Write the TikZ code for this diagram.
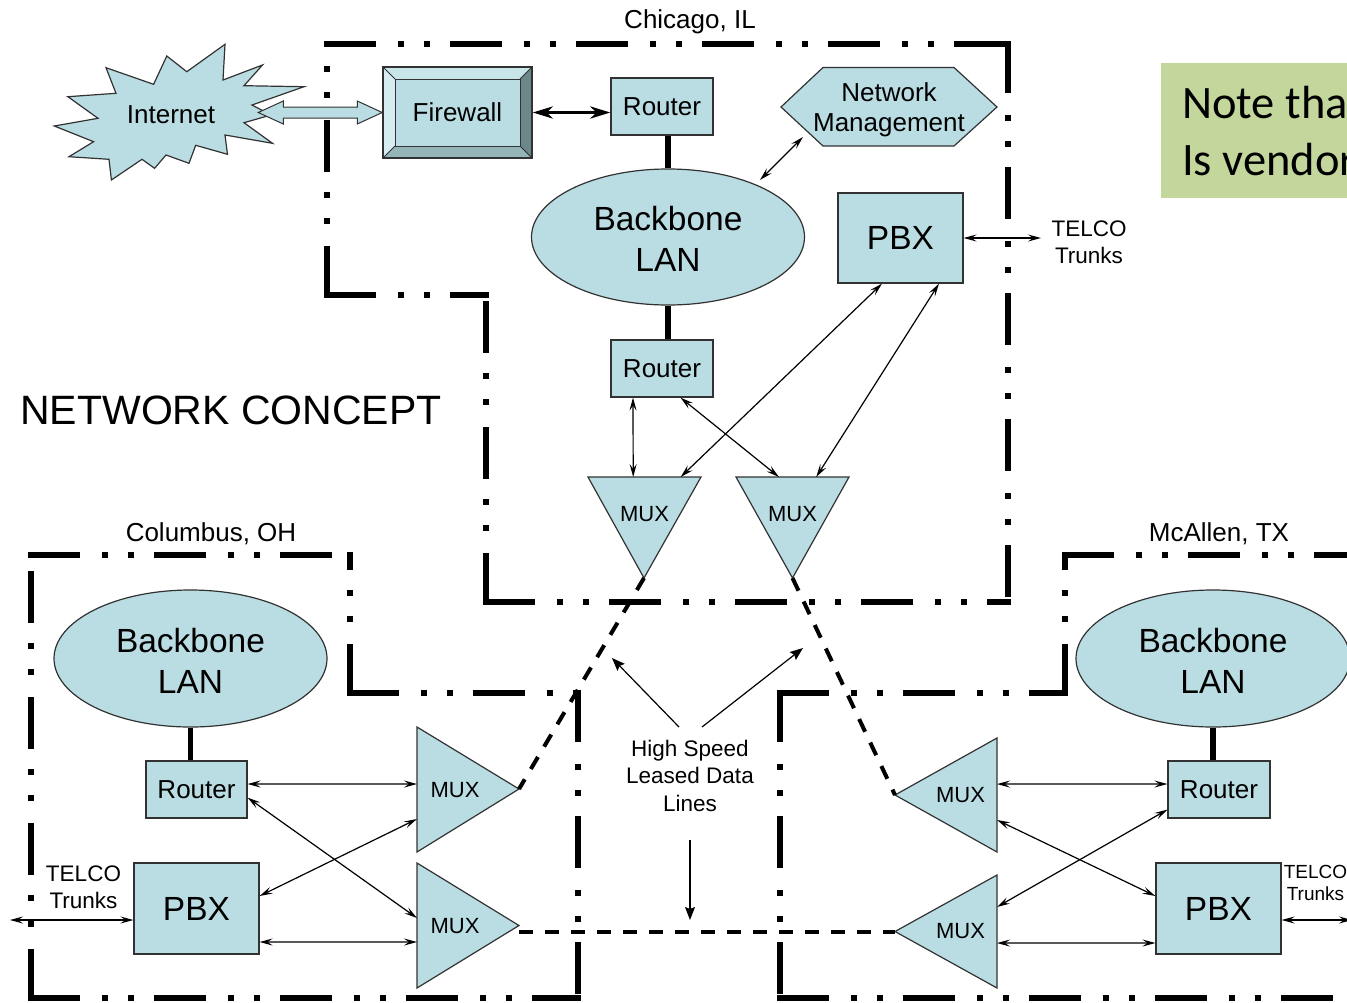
\documentclass[tikz,border=0pt]{standalone}
\usepackage{fontspec}
\setmainfont{Liberation Sans}
\newfontfamily\notefont{Carlito}
\usetikzlibrary{arrows.meta,calc,shapes.geometric}
\definecolor{lb}{RGB}{186,221,227}
\definecolor{notegreen}{RGB}{195,214,155}
\definecolor{bvtop}{RGB}{200,229,234}
\definecolor{bvleft}{RGB}{214,236,240}
\definecolor{bvbot}{RGB}{148,180,183}
\definecolor{bvright}{RGB}{108,135,138}
\definecolor{edge}{RGB}{50,50,50}
\newcommand\fsz[2]{\fontsize{#1pt}{#2pt}\selectfont}
\begin{document}
\begin{tikzpicture}[x=1pt,y=-1pt,
  sitebd/.style={line width=6.5pt, line cap=rect,
    dash pattern=on 45.5pt off 28.5pt on 0.01pt off 25.99pt on 0.01pt off 25.99pt},
  leased/.style={line width=4pt, dash pattern=on 14pt off 12pt},
  shp/.style={draw=edge, line width=1.2pt, fill=lb},
  box/.style={shp, rectangle, inner sep=0pt, font=\fsz{26}{30}},
  bigbox/.style={shp, rectangle, inner sep=0pt, font=\fsz{33.5}{41}},
  lan/.style={shp, ellipse, inner sep=0pt, align=center, font=\fsz{33.5}{41}},
  lbl/.style={inner sep=0pt, font=\fsz{26}{30}},
  small/.style={inner sep=0pt, align=center, font=\fsz{22.5}{27.5}},
  muxt/.style={inner sep=0pt, font=\fsz{22}{26}},
  thk/.style={line width=5.5pt},
  tarr/.style={line width=1.2pt,
    {Stealth[length=13pt,width=7pt,inset=5pt]}-{Stealth[length=13pt,width=7pt,inset=5pt]}},
  sarr/.style={line width=1.2pt, -{Stealth[length=13pt,width=10pt,inset=2pt]}},
  bigarr/.style={line width=3.5pt,
    {Stealth[length=20pt,width=12pt,inset=6pt]}-{Stealth[length=20pt,width=12pt,inset=6pt]}}
]
\useasboundingbox (0,0) rectangle (1347,1002);
\clip (0,0) rectangle (1347,1002);

% ---------- note box ----------
\fill[notegreen] (1161,63) rectangle (1360,198);
\node[anchor=base west, inner sep=0pt, font=\notefont\fsz{46.5}{56}] (note1) at (1182,118) {Note tha};
\node[anchor=base west, inner sep=0pt, font=\notefont\fsz{46.5}{56}] (note2) at (1182,175) {Is vendor};

% ---------- site borders ----------
% Chicago
\draw[sitebd] (327,44) -- (1008,44);
\draw[sitebd] (1008,44) -- (1008,602);
\draw[sitebd] (486,602) -- (1008,602);
\draw[sitebd] (486,602) -- (486,295);
\draw[sitebd] (327,295) -- (486,295);
\draw[sitebd] (327,295) -- (327,44);
% Columbus
\draw[sitebd] (31,555) -- (350,555);
\draw[sitebd] (350,693) -- (350,555);
\draw[sitebd] (350,693) -- (578,693);
\draw[sitebd] (578,693) -- (578,998);
\draw[sitebd] (31,998) -- (578,998);
\draw[sitebd] (31,998) -- (31,555);
% McAllen
\draw[sitebd] (1065,555) -- (1370,555);
\draw[sitebd] (1065,693) -- (1065,555);
\draw[sitebd] (780,693) -- (1065,693);
\draw[sitebd] (780,693) -- (780,998);
\draw[sitebd] (780,998) -- (1370,998);

% ---------- labels ----------
\node[lbl] (lchi) at (690,22) {Chicago, IL};
\node[lbl] (lcol) at (211,534) {Columbus, OH};
\node[lbl] (lmca) at (1219,534) {McAllen, TX};
\node[inner sep=0pt, font=\fsz{41}{48}] (title) at (231,410) {NETWORK CONCEPT};

% ---------- Chicago ----------
\draw[shp] (225,44.3) -- (223,80) -- (262.5,65) -- (244,85.7) -- (304,86.7) -- (252,105)
  -- (271,115) -- (244,122.7) -- (272.5,143.3) -- (225,135) -- (227.5,154.3) -- (195.7,145.3)
  -- (189,163.3) -- (166,155) -- (154.6,168.3) -- (142,159.3) -- (111.4,180) -- (109,159.3)
  -- (69,156.7) -- (93.6,141.7) -- (54.3,126) -- (98,118.3) -- (67.9,96.7) -- (116,93.3)
  -- (106,67.7) -- (153.6,84.3) -- (166.8,56) -- (186.8,71.7) -- cycle;
\node[lbl] (inet) at (171,115) {Internet};

% firewall bevel
\fill[bvtop] (383,67) -- (532,67) -- (520,79) -- (395,79) -- cycle;
\fill[bvleft] (383,67) -- (395,79) -- (395,146) -- (383,158) -- cycle;
\fill[bvbot] (383,158) -- (395,146) -- (520,146) -- (532,158) -- cycle;
\fill[bvright] (532,67) -- (532,158) -- (520,146) -- (520,79) -- cycle;
\draw[draw=edge, line width=1pt, fill=lb] (395,79) rectangle (520,146);
\draw[draw=edge, line width=1pt] (383,67) -- (395,79) (532,67) -- (520,79)
  (383,158) -- (395,146) (532,158) -- (520,146);
\node[draw=edge, line width=1.5pt, minimum width=149pt, minimum height=91pt, inner sep=0pt,
  font=\fsz{26}{30}] (fw) at (457.5,112.5) {Firewall};

% block double arrow internet <-> firewall
\draw[shp, line width=1pt] (fw.west) -- ++(-25,11.5) -- ++(0,-6) -- ++(-74,0) -- ++(0,6)
  -- ++(-25,-11.5) -- ++(25,-11.5) -- ++(0,6) -- ++(74,0) -- ++(0,-6) -- cycle;

\node[box, minimum width=102pt, minimum height=57pt] (crt) at (662,106.5) {Router};
\draw[bigarr] (fw.east) -- (fw.east -| crt.west);

\node[lan, minimum width=273pt, minimum height=136pt] (cbb) at (668,237) {\strut Backbone\\LAN};
\draw[thk] (crt.south -| cbb.north) -- (cbb.north);

\draw[shp] (781,107) -- (823,67.5) -- (954,67.5) -- (997,107) -- (954,146) -- (823,146) -- cycle;
\node[inner sep=0pt, align=center, font=\fsz{26}{30}] (nm) at (889,109.5) {Network\\Management};
\coordinate (nmarr) at (803,137);
\coordinate (cbbarr) at (760,180);
\draw[tarr] (nmarr) -- (cbbarr);

\node[bigbox, minimum width=125pt, minimum height=90pt] (cpbx) at (900.5,238) {PBX};
\coordinate (ctel) at (1041,238);
\draw[tarr] (cpbx.east) -- (ctel);
\node[small] (ctelt) at (1089,242) {TELCO\\Trunks};

\node[box, minimum width=102pt, minimum height=57pt] (crt2) at (662,368.5) {Router};
\draw[thk] (cbb.south) -- (cbb.south |- crt2.north);

% Chicago MUXes
\coordinate (cm1a) at (588,477); \coordinate (cm1b) at (701,477); \coordinate (cm1c) at (644,578);
\coordinate (cm2a) at (736,477); \coordinate (cm2b) at (849,477); \coordinate (cm2c) at (792.5,578);
\draw[shp] (cm1a) -- (cm1b) -- (cm1c) -- cycle;
\draw[shp] (cm2a) -- (cm2b) -- (cm2c) -- cycle;
\node[muxt] (cm1) at (644.5,514) {MUX};
\node[muxt] (cm2) at (792.5,514) {MUX};

\draw[tarr] ($(crt2.south)+(-29,0)$) -- ($(cm1a)!0.40!(cm1b)$);
\draw[tarr] ($(crt2.south)+(18.5,0)$) -- ($(cm2a)!0.38!(cm2b)$);
\draw[tarr] ($(cpbx.south)+(-18.5,0)$) -- ($(cm1a)!0.82!(cm1b)$);
\draw[tarr] ($(cpbx.south)+(38.5,0)$) -- ($(cm2a)!0.71!(cm2b)$);

% ---------- Columbus ----------
\node[lan, minimum width=273pt, minimum height=137pt] (bbb) at (190.5,658.5) {\strut Backbone\\LAN};
\node[box, minimum width=101pt, minimum height=57pt] (brt) at (196.5,789.5) {Router};
\draw[thk] (bbb.south) -- (bbb.south |- brt.north);
\node[bigbox, minimum width=125pt, minimum height=91pt] (bpbx) at (196.5,908.5) {PBX};

\coordinate (bm1a) at (417,727); \coordinate (bm1b) at (417,852); \coordinate (bm1c) at (519,789);
\coordinate (bm2a) at (417,863); \coordinate (bm2b) at (417,988); \coordinate (bm2c) at (519,925.5);
\draw[shp] (bm1a) -- (bm1c) -- (bm1b) -- cycle;
\draw[shp] (bm2a) -- (bm2c) -- (bm2b) -- cycle;
\node[muxt] (bm1) at (455,790) {MUX};
\node[muxt] (bm2) at (455,926) {MUX};

\draw[tarr] ($(brt.east)+(0,-5.5)$) -- ($(bm1a)!0.456!(bm1b)$);
\draw[tarr] ($(brt.south east)+(0,-21)$) -- ($(bm2a)!0.44!(bm2b)$);
\draw[tarr] ($(bpbx.east)+(0,-12.5)$) -- ($(bm1a)!0.736!(bm1b)$);
\draw[tarr] ($(bpbx.east)+(0,33.5)$) -- ($(bm2a)!0.632!(bm2b)$);
\coordinate (btel) at (10,920);
\draw[tarr] (btel) -- ($(bpbx.west)+(0,11.5)$);
\node[small] (btelt) at (83.5,887) {TELCO\\Trunks};

% ---------- McAllen ----------
\node[lan, minimum width=274pt, minimum height=137pt] (mbb) at (1213,658.5) {\strut Backbone\\LAN};
\node[box, minimum width=102pt, minimum height=57pt] (mrt) at (1219,789.5) {Router};
\draw[thk] (mbb.south) -- (mbb.south |- mrt.north);
\node[bigbox, minimum width=125pt, minimum height=91pt] (mpbx) at (1218.5,908.5) {PBX};

\coordinate (mm1a) at (997,738); \coordinate (mm1b) at (997,852); \coordinate (mm1c) at (895,795);
\coordinate (mm2a) at (997,875); \coordinate (mm2b) at (997,988); \coordinate (mm2c) at (895,931.5);
\draw[shp] (mm1a) -- (mm1c) -- (mm1b) -- cycle;
\draw[shp] (mm2a) -- (mm2c) -- (mm2b) -- cycle;
\node[muxt] (mm1) at (960.5,795) {MUX};
\node[muxt] (mm2) at (960.5,931.5) {MUX};

\draw[tarr] ($(mm1a)!0.404!(mm1b)$) -- ($(mrt.west)+(0,-5.5)$);
\draw[tarr] ($(mm1a)!0.719!(mm1b)$) -- ($(mpbx.west)+(0,-12.5)$);
\draw[tarr] ($(mm2a)!0.283!(mm2b)$) -- ($(mrt.south west)+(0,-9)$);
\draw[tarr] ($(mm2a)!0.602!(mm2b)$) -- ($(mpbx.west)+(0,34.5)$);
\coordinate (mtel) at (1352,920);
\draw[tarr] ($(mpbx.east)+(0,11.5)$) -- (mtel);
\node[inner sep=0pt, align=center, font=\fsz{19}{22}] (mtelt) at (1315.5,882.5) {TELCO\\Trunks};

% ---------- leased lines ----------
\draw[leased] (cm1c) -- (bm1c);
\draw[leased] (cm2c) -- (mm1c);
\draw[leased] ($(bm2c)+(0,6)$) -- (mm2c);

\node[small] (hs) at (690,775.5) {High Speed\\Leased Data\\Lines};
\coordinate (h1s) at (679,727); \coordinate (h1e) at (612,658);
\coordinate (h2s) at (702,727); \coordinate (h2e) at (803,648);
\coordinate (h3s) at (690,840); \coordinate (h3e) at (690,920);
\draw[sarr] (h1s) -- (h1e);
\draw[sarr] (h2s) -- (h2e);
\draw[sarr] (h3s) -- (h3e);
\end{tikzpicture}
\end{document}
